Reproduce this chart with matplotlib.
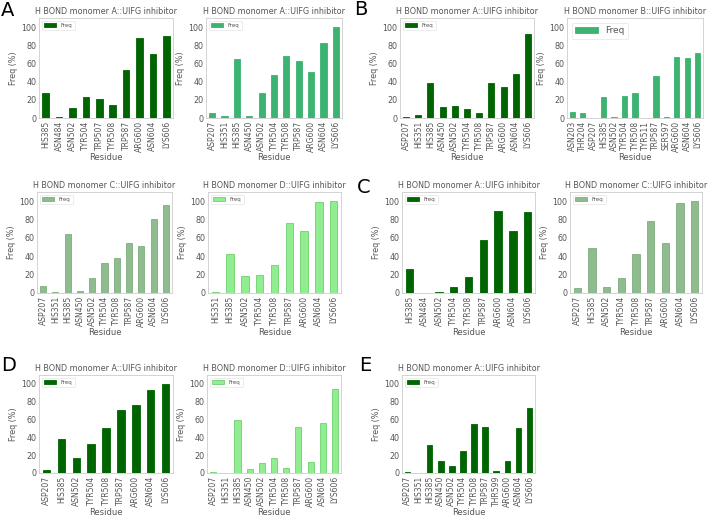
import matplotlib
matplotlib.use("Agg")
import matplotlib.pyplot as plt
import numpy as np

# residues and H-bond frequencies (%) per panel
res_a1 = ["HIS385", "ASN484", "ASN502", "TYR504", "TRP507", "TYR508", "TRP587", "ARG600", "ASN604", "LYS606"]
freq_a1 = [28, 1, 11, 23, 21, 14, 53, 88, 70, 90]

res_a2 = ["ASP207", "HIS351", "HIS385", "ASN450", "ASN502", "TYR504", "TYR508", "TRP587", "ARG600", "ASN604", "LYS606"]
freq_a2 = [5, 2, 65, 2, 27, 47, 68, 63, 51, 83, 100]

res_a3 = ["ASP207", "HIS351", "HIS385", "ASN450", "ASN502", "TYR504", "TYR508", "TRP587", "ARG600", "ASN604", "LYS606"]
freq_a3 = [8, 1, 64, 2, 16, 33, 38, 54, 51, 81, 96]

res_a4 = ["HIS351", "HIS385", "ASN502", "TYR504", "TYR508", "TRP587", "ARG600", "ASN604", "LYS606"]
freq_a4 = [1, 42, 18, 20, 30, 76, 67, 99, 100]

res_b1 = ["ASP207", "HIS351", "HIS385", "ASN450", "ASN502", "TYR504", "TYR508", "TRP587", "ARG600", "ASN604", "LYS606"]
freq_b1 = [1, 3, 39, 12, 13, 10, 5, 39, 34, 48, 92]

res_b2 = ["ASN203", "THR204", "ASP207", "HIS385", "ASN502", "TYR504", "TYR508", "TYR511", "TRP587", "SER597", "ARG600", "ASN604", "LYS606"]
freq_b2 = [7, 6, 0.5, 23, 1.5, 24, 28, 0.5, 46, 1, 67, 66, 72]

res_c1 = ["HIS385", "ASN484", "ASN502", "TYR504", "TYR508", "TRP587", "ARG600", "ASN604", "LYS606"]
freq_c1 = [26, 0.5, 1.5, 7, 17, 58, 89, 68, 88]

res_c2 = ["ASP207", "HIS385", "ASN502", "TYR504", "TYR508", "TRP587", "ARG600", "ASN604", "LYS606"]
freq_c2 = [5, 49, 7, 16, 42, 78, 55, 98, 100]

res_d1 = ["ASP207", "HIS385", "ASN502", "TYR504", "TYR508", "TRP587", "ARG600", "ASN604", "LYS606"]
freq_d1 = [3, 38, 17, 33, 51, 71, 76, 93, 100]

res_d2 = ["ASP207", "HIS351", "HIS385", "ASN450", "ASN502", "TYR504", "TYR508", "TRP587", "ARG600", "ASN604", "LYS606"]
freq_d2 = [1, 0.5, 59, 4, 11, 17, 6, 52, 12, 56, 94]

res_e = ["ASP207", "HIS351", "HIS385", "ASN450", "ASN502", "TYR504", "TYR508", "TRP587", "THR599", "ARG600", "ASN604", "LYS606"]
freq_e = [1, 0.5, 31, 13, 8, 25, 55, 52, 2, 14, 50, 73]

TXT = "#555555"
W, H = 709, 519

fig = plt.figure(figsize=(7.09, 5.19), dpi=100)


def panel(box, res, freq, title, color, edge=None, legsize=4):
    x0, y0, x1, y1 = box
    ax = fig.add_axes([x0 / W, 1 - y1 / H, (x1 - x0) / W, (y1 - y0) / H])
    x = np.arange(len(res))
    ax.bar(x, freq, width=0.5, color=color, edgecolor=edge if edge else color,
           linewidth=0.6, label="Freq")
    ax.set_xlim(-0.5, len(res) - 0.5)
    ax.set_ylim(0, 110)
    ax.set_yticks([0, 20, 40, 60, 80, 100])
    ax.set_xticks(x)
    ax.set_xticklabels(res, rotation=90)
    ax.tick_params(length=0, colors=TXT, pad=2)
    ax.tick_params(axis="x", labelsize=5.5)
    ax.tick_params(axis="y", labelsize=5.8)
    ax.set_title(title, fontsize=5.8, color=TXT, pad=3)
    ax.set_xlabel("Residue", fontsize=6, color=TXT, labelpad=1)
    ax.set_ylabel("Freq (%)", fontsize=5.8, color=TXT, labelpad=2)
    for s in ax.spines.values():
        s.set_color("#cccccc")
        s.set_linewidth(0.6)
    leg = ax.legend(loc="upper left", fontsize=legsize, frameon=True,
                    handlelength=2.2 if legsize < 5 else 2.5, borderpad=0.4)
    leg.get_frame().set_edgecolor("#dddddd")
    leg.get_frame().set_linewidth(0.5)
    for t in leg.get_texts():
        t.set_color(TXT)
    return ax


panel((39, 18, 173, 118), res_a1, freq_a1, "H BOND monomer A::UIFG inhibitor", "darkgreen")
panel((206, 18, 342, 118), res_a2, freq_a2, "H BOND monomer A::UIFG inhibitor", "mediumseagreen")
panel((400, 18, 534, 118), res_b1, freq_b1, "H BOND monomer A::UIFG inhibitor", "darkgreen")
panel((567, 18, 703, 118), res_b2, freq_b2, "H BOND monomer B::UIFG inhibitor", "mediumseagreen", legsize=6.5)

panel((37, 192, 172, 293), res_a3, freq_a3, "H BOND monomer C::UIFG inhibitor", "darkseagreen", edge="#7fae7f")
panel((208, 192, 341, 293), res_a4, freq_a4, "H BOND monomer D::UIFG inhibitor", "lightgreen", edge="#6fcf6f")
panel((402, 192, 535, 293), res_c1, freq_c1, "H BOND monomer A::UIFG inhibitor", "darkgreen")
panel((570, 192, 702, 293), res_c2, freq_c2, "H BOND monomer C::UIFG inhibitor", "darkseagreen", edge="#7fae7f")

panel((39, 375, 173, 473), res_d1, freq_d1, "H BOND monomer A::UIFG inhibitor", "darkgreen")
panel((207, 375, 341, 473), res_d2, freq_d2, "H BOND monomer D::UIFG inhibitor", "lightgreen", edge="#6fcf6f")
panel((402, 375, 535, 473), res_e, freq_e, "H BOND monomer A::UIFG inhibitor", "darkgreen")

for lab, px, py in [("A", 1, 1), ("B", 354, 0), ("C", 357, 178), ("D", 1, 356), ("E", 359, 356)]:
    fig.text(px / W, 1 - py / H, lab, fontsize=14, ha="left", va="top", color="black")

fig.savefig("out.png", dpi=100)
